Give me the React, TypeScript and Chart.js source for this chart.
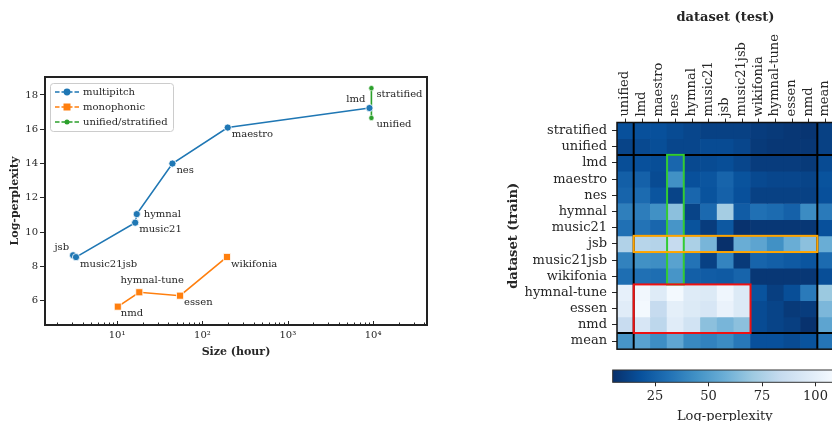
import React, { useEffect, useRef } from 'react';
import { Chart, registerables } from 'chart.js';
Chart.register(...registerables);

// ---------- left panel data ----------
const SERIES_LABELS = ['multipitch', 'monophonic', 'unified/stratified'];
const SERIES_COLORS = ['#1f77b4', '#ff7f0e', '#2ca02c'];

const MULTI_NAMES = ['jsb', 'music21jsb', 'music21', 'hymnal', 'nes', 'maestro', 'lmd'];
const MULTI_HOURS = [3.05, 3.3, 16.3, 17, 44.5, 198, 9060];
const MULTI_PPL = [8.65, 8.54, 10.55, 11.05, 14.0, 16.1, 17.24];

const MONO_NAMES = ['nmd', 'hymnal-tune', 'essen', 'wikifonia'];
const MONO_HOURS = [10.2, 18.2, 54.7, 194];
const MONO_PPL = [5.65, 6.49, 6.29, 8.55];

const US_NAMES = ['stratified', 'unified'];
const US_HOURS = [9550, 9550];
const US_PPL = [18.4, 16.66];

const X_MAJOR_TICKS = [10, 100, 1000, 10000];
const X_MAJOR_LABELS = ['10¹', '10²', '10³', '10⁴'];
const Y_TICKS = [6, 8, 10, 12, 14, 16, 18];

// ---------- right panel data ----------
const TEST_COLS = ['unified', 'lmd', 'maestro', 'nes', 'hymnal', 'music21', 'jsb', 'music21jsb', 'wikifonia', 'hymnal-tune', 'essen', 'nmd', 'mean'];
const TRAIN_ROWS = ['stratified', 'unified', 'lmd', 'maestro', 'nes', 'hymnal', 'music21', 'jsb', 'music21jsb', 'wikifonia', 'hymnal-tune', 'essen', 'nmd', 'mean'];

const ROW_STRATIFIED = [18, 18, 18, 16, 14, 12, 12, 12, 10, 9, 8, 7, 12];
const ROW_UNIFIED = [13, 15, 17, 14, 14, 16, 16, 14, 9, 8, 8, 8, 12];
const ROW_LMD = [17, 18, 17, 27, 15, 16, 17, 14, 10, 10, 10, 9, 16];
const ROW_MAESTRO = [24, 25, 16, 44, 18, 20, 26, 19, 15, 14, 14, 13, 19];
const ROW_NES = [26, 29, 20, 13, 27, 19, 25, 18, 12, 12, 12, 12, 18];
const ROW_HYMNAL = [37, 36, 44, 66, 13, 28, 73, 23, 31, 29, 25, 42, 35];
const ROW_MUSIC21 = [31, 32, 27, 46, 19, 10, 21, 6, 8, 8, 8, 8, 18];
const ROW_JSB = [77, 79, 78, 84, 75, 61, 5, 57, 53, 44, 57, 66, 57];
const ROW_MUSIC21JSB = [38, 44, 43, 52, 32, 12, 39, 9, 26, 24, 22, 20, 29];
const ROW_WIKIFONIA = [30, 31, 30, 46, 24, 23, 22, 26, 8, 8, 8, 8, 17];
const ROW_HYMNAL_TUNE = [101, 107, 97, 108, 97, 96, 106, 96, 19, 11, 17, 35, 70];
const ROW_ESSEN = [98, 108, 84, 100, 96, 93, 103, 96, 16, 13, 9, 10, 62];
const ROW_NMD = [85, 93, 81, 98, 90, 66, 61, 66, 16, 13, 11, 6, 53];
const ROW_MEAN = [46, 52, 43, 54, 41, 38, 42, 34, 18, 18, 16, 19, 33];

const HEAT_VALUES = [ROW_STRATIFIED, ROW_UNIFIED, ROW_LMD, ROW_MAESTRO, ROW_NES, ROW_HYMNAL, ROW_MUSIC21, ROW_JSB, ROW_MUSIC21JSB, ROW_WIKIFONIA, ROW_HYMNAL_TUNE, ROW_ESSEN, ROW_NMD, ROW_MEAN];

const CBAR_TICKS = [25, 50, 75, 100];
const VMIN = 5.2;
const VMAX = 110;

// ---------- styles ----------
const TEXT = '#262626';
const FONT = 'DejaVu Serif';
const LABEL_STYLE: Record<string, [number, number, CanvasTextAlign]> = {
  jsb: [-4, -8, 'right'],
  music21jsb: [4, 7, 'left'],
  music21: [4, 7, 'left'],
  hymnal: [7, 0, 'left'],
  nes: [4, 7, 'left'],
  maestro: [4, 7, 'left'],
  lmd: [-4, -9, 'right'],
  stratified: [5, 6, 'left'],
  unified: [5, 6, 'left'],
  nmd: [3, 7, 'left'],
  'hymnal-tune': [13, -12, 'center'],
  essen: [4, 7, 'left'],
  wikifonia: [4, 7, 'left'],
};

const BLUES = ['#f7fbff', '#deebf7', '#c6dbef', '#9ecae1', '#6baed6', '#4292c6', '#2171b5', '#08519c', '#08306b'];
function hex(c: string) {
  return [parseInt(c.slice(1, 3), 16), parseInt(c.slice(3, 5), 16), parseInt(c.slice(5, 7), 16)];
}
function cmap(v: number) {
  let t = (v - VMIN) / (VMAX - VMIN);
  t = Math.max(0, Math.min(1, t));
  const s = (1 - t) * (BLUES.length - 1);
  const i = Math.min(BLUES.length - 2, Math.floor(s));
  const f = s - i;
  const a = hex(BLUES[i]);
  const b = hex(BLUES[i + 1]);
  const c = a.map((x, k) => Math.round(x + (b[k] - x) * f));
  return `rgb(${c[0]},${c[1]},${c[2]})`;
}

function pts(xs: number[], ys: number[]) {
  return xs.map((x, i) => ({ x, y: ys[i] }));
}

const leftPlugin = {
  id: 'leftDecor',
  afterDatasetsDraw(chart: any) {
    const { ctx, chartArea: ca, scales } = chart;
    const xs = scales.x;
    const ys = scales.y;
    ctx.save();
    // point labels
    ctx.font = `10px ${FONT}`;
    ctx.fillStyle = TEXT;
    ctx.textBaseline = 'middle';
    const groups: [string[], number[], number[]][] = [
      [MULTI_NAMES, MULTI_HOURS, MULTI_PPL],
      [MONO_NAMES, MONO_HOURS, MONO_PPL],
      [US_NAMES, US_HOURS, US_PPL],
    ];
    groups.forEach(([names, hrs, ppl]) => {
      names.forEach((n, i) => {
        const st = LABEL_STYLE[n];
        const px = xs.getPixelForValue(hrs[i]);
        const py = ys.getPixelForValue(ppl[i]);
        ctx.textAlign = st[2];
        ctx.fillText(n, px + st[0], py + st[1]);
      });
    });
    // x ticks (inward)
    ctx.strokeStyle = TEXT;
    ctx.lineWidth = 1;
    xs.ticks.forEach((t: any) => {
      const px = Math.round(xs.getPixelForValue(t.value)) + 0.5;
      const major = X_MAJOR_TICKS.includes(t.value);
      ctx.beginPath();
      ctx.moveTo(px, ca.bottom);
      ctx.lineTo(px, ca.bottom - (major ? 4 : 2.5));
      ctx.stroke();
    });
    // frame
    ctx.lineWidth = 2;
    ctx.strokeStyle = '#222';
    ctx.strokeRect(ca.left, ca.top, ca.right - ca.left, ca.bottom - ca.top);
    // legend
    const lx = ca.left + 5, ly = ca.top + 6, lw = 123, lh = 48;
    ctx.fillStyle = 'rgba(255,255,255,0.85)';
    ctx.strokeStyle = '#cccccc';
    ctx.lineWidth = 1;
    ctx.beginPath();
    (ctx as any).roundRect(lx + 0.5, ly + 0.5, lw, lh, 3);
    ctx.fill();
    ctx.stroke();
    SERIES_LABELS.forEach((lab, i) => {
      const yy = ly + 9 + i * 15;
      const col = SERIES_COLORS[i];
      ctx.strokeStyle = col;
      ctx.lineWidth = 1.6;
      ctx.setLineDash([4.5, 2]);
      ctx.beginPath();
      ctx.moveTo(lx + 5, yy);
      ctx.lineTo(lx + 29, yy);
      ctx.stroke();
      ctx.setLineDash([]);
      ctx.fillStyle = col;
      ctx.beginPath();
      if (i === 0) ctx.arc(lx + 17, yy, 3.4, 0, Math.PI * 2);
      else if (i === 1) ctx.rect(lx + 13.5, yy - 3.5, 7, 7);
      else ctx.arc(lx + 17, yy, 2.5, 0, Math.PI * 2);
      ctx.fill();
      ctx.fillStyle = TEXT;
      ctx.textAlign = 'left';
      ctx.font = `10px ${FONT}`;
      ctx.fillText(lab, lx + 33, yy);
    });
    ctx.restore();
  },
};

const heatPlugin = {
  id: 'heatDecor',
  afterDatasetsDraw(chart: any) {
    const { ctx, chartArea: ca, scales } = chart;
    const xs = scales.x;
    const ys = scales.y;
    const w = (ca.right - ca.left) / TEST_COLS.length;
    const colL = (i: number) => xs.getPixelForValue(i) - w / 2;
    const rowT = (r: number) => ys.getPixelForValue(r);
    ctx.save();
    ctx.strokeStyle = '#000';
    ctx.lineWidth = 2;
    [1, TEST_COLS.length - 1].forEach((c) => {
      const x = colL(c);
      ctx.beginPath();
      ctx.moveTo(x, ca.top);
      ctx.lineTo(x, ca.bottom);
      ctx.stroke();
    });
    [2, TRAIN_ROWS.length - 1].forEach((r) => {
      const y = rowT(r);
      ctx.beginPath();
      ctx.moveTo(ca.left, y);
      ctx.lineTo(ca.right, y);
      ctx.stroke();
    });
    const box = (c0: number, c1: number, r0: number, r1: number, col: string) => {
      ctx.strokeStyle = col;
      ctx.lineWidth = 2;
      const x0 = colL(c0), x1 = colL(c1 + 1);
      const y0 = rowT(r0), y1 = rowT(r1 + 1);
      ctx.strokeRect(x0, y0, x1 - x0, y1 - y0);
    };
    box(3, 3, 2, 9, '#33cc33');
    box(1, 11, 7, 7, '#ffa500');
    box(1, 7, 10, 12, '#ee1111');
    ctx.strokeStyle = '#111';
    ctx.lineWidth = 1.5;
    ctx.strokeRect(ca.left, ca.top, ca.right - ca.left, ca.bottom - ca.top);
    ctx.restore();
  },
};

const cbarPlugin = {
  id: 'cbar',
  beforeDatasetsDraw(chart: any) {
    const { ctx, chartArea: ca, scales } = chart;
    const xs = scales.x;
    const g = ctx.createLinearGradient(ca.left, 0, ca.right, 0);
    BLUES.forEach((_, k) => {
      const v = VMIN + (k / (BLUES.length - 1)) * (VMAX - VMIN);
      const p = (xs.getPixelForValue(v) - ca.left) / (ca.right - ca.left);
      g.addColorStop(Math.max(0, Math.min(1, p)), cmap(v));
    });
    ctx.save();
    ctx.fillStyle = g;
    ctx.fillRect(ca.left, ca.top, ca.right - ca.left, ca.bottom - ca.top);
    ctx.strokeStyle = '#333';
    ctx.lineWidth = 1;
    ctx.strokeRect(ca.left, ca.top, ca.right - ca.left, ca.bottom - ca.top);
    ctx.restore();
  },
};

export default function App() {
  const c1 = useRef<HTMLCanvasElement>(null);
  const c2 = useRef<HTMLCanvasElement>(null);
  const c3 = useRef<HTMLCanvasElement>(null);

  useEffect(() => {
    document.body.style.margin = '0';
    Chart.defaults.font.family = FONT;
    Chart.defaults.color = TEXT;

    const minorTicks: number[] = [];
    [1, 10, 100, 1000, 10000].forEach((d) => {
      for (let m = 1; m <= 9; m++) minorTicks.push(m * d);
    });

    const left = new Chart(c1.current!, {
      type: 'scatter',
      data: {
        datasets: [
          {
            label: SERIES_LABELS[0],
            data: pts(MULTI_HOURS, MULTI_PPL),
            showLine: true,
            borderColor: SERIES_COLORS[0],
            backgroundColor: SERIES_COLORS[0],
            borderWidth: 1.6,
            pointRadius: 3.6,
            pointBorderColor: '#ffffff',
            pointBorderWidth: 0.8,
          },
          {
            label: SERIES_LABELS[1],
            data: pts(MONO_HOURS, MONO_PPL),
            showLine: true,
            borderColor: SERIES_COLORS[1],
            backgroundColor: SERIES_COLORS[1],
            borderWidth: 1.6,
            pointStyle: 'rect',
            pointRadius: 5,
            pointBorderColor: '#ffffff',
            pointBorderWidth: 0.8,
          },
          {
            label: SERIES_LABELS[2],
            data: pts(US_HOURS, US_PPL),
            showLine: true,
            borderColor: SERIES_COLORS[2],
            backgroundColor: SERIES_COLORS[2],
            borderWidth: 1.6,
            pointRadius: 2.6,
            pointBorderColor: '#ffffff',
            pointBorderWidth: 0.6,
          },
        ],
      },
      options: {
        responsive: false,
        animation: false,
        events: [],
        layout: { padding: { top: 77, right: 23, bottom: 60, left: 0 } },
        plugins: { legend: { display: false }, tooltip: { enabled: false } },
        scales: {
          x: {
            type: 'logarithmic',
            min: 1.43,
            max: 42800,
            afterBuildTicks: (s: any) => {
              s.ticks = minorTicks.filter((v) => v >= s.min && v <= s.max).map((v) => ({ value: v }));
            },
            afterFit: (s: any) => {
              s.height = 36;
            },
            ticks: {
              autoSkip: false,
              maxRotation: 0,
              padding: -4,
              font: { size: 10, family: FONT },
              color: TEXT,
              callback: (v: any) => {
                const i = X_MAJOR_TICKS.indexOf(Number(v));
                return i >= 0 ? X_MAJOR_LABELS[i] : '';
              },
            },
            grid: { display: false },
            border: { display: false },
            title: {
              display: true,
              text: 'Size (hour)',
              font: { size: 11, weight: 'bold', family: FONT },
              color: TEXT,
              padding: { top: 0, bottom: 2 },
            },
          },
          y: {
            type: 'linear',
            min: 4.58,
            max: 19.05,
            afterBuildTicks: (s: any) => {
              s.ticks = Y_TICKS.map((v) => ({ value: v }));
            },
            afterFit: (s: any) => {
              s.width = 45;
            },
            ticks: { padding: 2, font: { size: 10, family: FONT }, color: TEXT },
            grid: { drawOnChartArea: false, drawTicks: true, tickLength: 5, color: TEXT },
            border: { display: false },
            title: {
              display: true,
              text: 'Log-perplexity',
              font: { size: 11, weight: 'bold', family: FONT },
              color: TEXT,
              padding: { top: 9, bottom: 0 },
            },
          },
        },
      } as any,
      plugins: [leftPlugin],
    });

    const heat = new Chart(c2.current!, {
      type: 'bar',
      data: {
        labels: TEST_COLS,
        datasets: TRAIN_ROWS.map((name, r) => ({
          label: name,
          data: TEST_COLS.map(() => [r, r + 1]),
          backgroundColor: HEAT_VALUES[r].map(cmap),
          borderWidth: 0,
          barPercentage: 1,
          categoryPercentage: 1,
          grouped: false,
        })) as any,
      },
      options: {
        responsive: false,
        animation: false,
        events: [],
        layout: { padding: { top: 0, right: 16, bottom: 6.3, left: 0 } },
        plugins: { legend: { display: false }, tooltip: { enabled: false } },
        scales: {
          x: {
            position: 'top',
            offset: true,
            afterFit: (s: any) => {
              s.height = 122.5;
            },
            ticks: {
              autoSkip: false,
              minRotation: 90,
              maxRotation: 90,
              padding: 2,
              labelOffset: 15,
              font: { size: 13, family: FONT },
              color: TEXT,
            },
            grid: { offset: false, drawOnChartArea: false, drawTicks: true, tickLength: 4, color: TEXT },
            border: { display: false },
            title: {
              display: true,
              text: 'dataset (test)',
              font: { size: 13, weight: 'bold', family: FONT },
              color: TEXT,
              padding: { top: 10, bottom: 0 },
            },
          },
          y: {
            type: 'linear',
            min: 0,
            max: TRAIN_ROWS.length,
            reverse: true,
            afterBuildTicks: (s: any) => {
              s.ticks = TRAIN_ROWS.map((_, i) => ({ value: i + 0.5 }));
            },
            afterFit: (s: any) => {
              s.width = 117;
            },
            ticks: {
              autoSkip: false,
              padding: 5,
              font: { size: 13, family: FONT },
              color: TEXT,
              callback: (v: any) => TRAIN_ROWS[Math.floor(Number(v))],
            },
            grid: { drawOnChartArea: false, drawTicks: true, tickLength: 5, color: TEXT },
            border: { display: false },
            title: {
              display: true,
              text: 'dataset (train)',
              font: { size: 13, weight: 'bold', family: FONT },
              color: TEXT,
              padding: { top: 6, bottom: 0 },
            },
          },
        },
      } as any,
      plugins: [heatPlugin],
    });

    const cbar = new Chart(c3.current!, {
      type: 'scatter',
      data: { datasets: [{ data: [] }] },
      options: {
        responsive: false,
        animation: false,
        events: [],
        layout: { padding: { top: 8, right: 13.1, bottom: 0, left: 12.7 } },
        plugins: { legend: { display: false }, tooltip: { enabled: false } },
        scales: {
          x: {
            type: 'linear',
            min: VMIN,
            max: VMAX,
            afterBuildTicks: (s: any) => {
              s.ticks = CBAR_TICKS.map((v) => ({ value: v }));
            },
            afterFit: (s: any) => {
              s.height = 49.7;
            },
            ticks: { padding: 3, font: { size: 13, family: FONT }, color: TEXT },
            grid: { drawOnChartArea: false, drawTicks: true, tickLength: 4, color: TEXT },
            border: { display: false },
            title: {
              display: true,
              text: 'Log-perplexity',
              font: { size: 13, family: FONT },
              color: TEXT,
              padding: { top: 0, bottom: 7.5 },
            },
          },
          y: { display: false, min: 0, max: 1 },
        },
      } as any,
      plugins: [cbarPlugin],
    });

    return () => {
      left.destroy();
      heat.destroy();
      cbar.destroy();
    };
  }, []);

  return (
    <div style={{ position: 'fixed', left: 0, top: 0, width: 832, height: 421, overflow: 'hidden', background: '#fff' }}>
      <canvas ref={c1} width={450} height={421} style={{ position: 'absolute', left: 0, top: 0, width: 450, height: 421 }} />
      <canvas ref={c2} width={350} height={362} style={{ position: 'absolute', left: 500, top: 0, width: 350, height: 362 }} />
      <canvas ref={c3} width={250} height={70} style={{ position: 'absolute', left: 600, top: 362, width: 250, height: 70 }} />
    </div>
  );
}
